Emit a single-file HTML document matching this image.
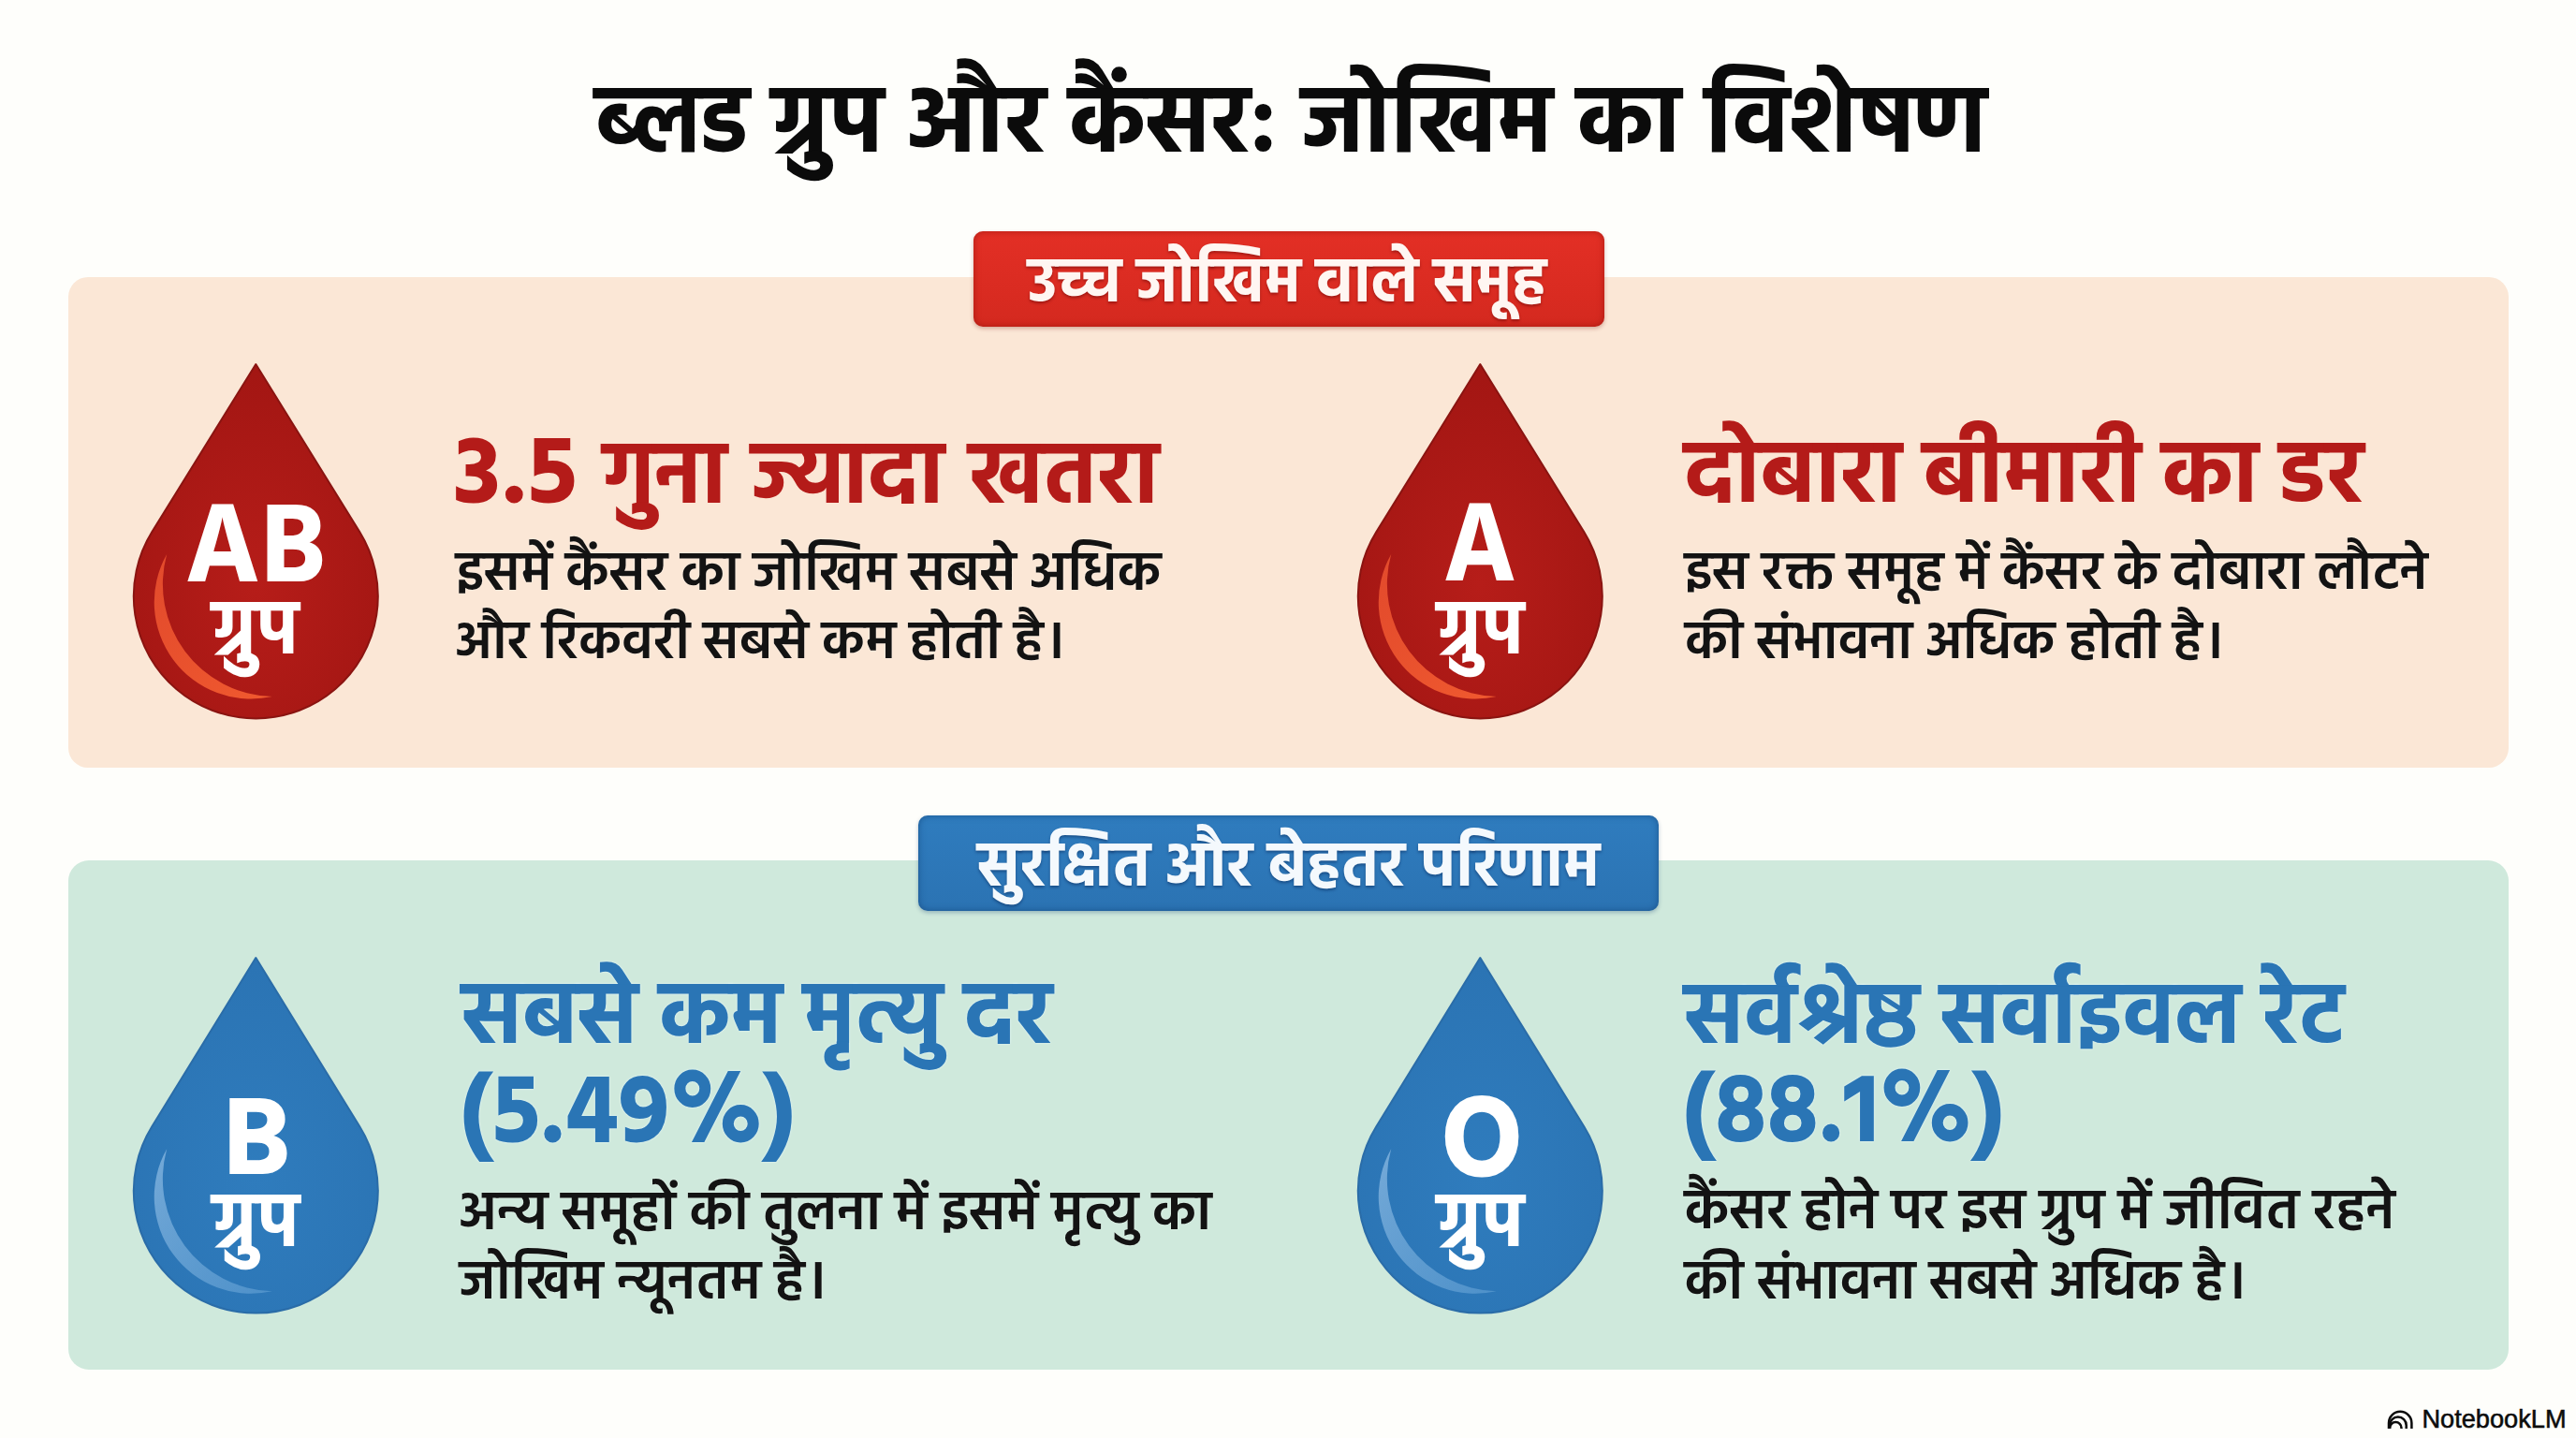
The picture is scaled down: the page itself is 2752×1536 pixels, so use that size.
<!DOCTYPE html>
<html lang="hi">
<head>
<meta charset="utf-8">
<title>ब्लड ग्रुप और कैंसर: जोखिम का विशेषण</title>
<style>
html,body{margin:0;padding:0;}
body{width:2752px;height:1536px;overflow:hidden;background:#fefefb;}
#page{position:relative;width:2752px;height:1536px;overflow:hidden;background:#fefefb;font-family:"Hind","Mukta","Noto Sans Devanagari","Lohit Devanagari","Liberation Sans","FreeSans",sans-serif;}
.t{position:absolute;white-space:nowrap;line-height:1;margin:0;font-weight:700;}
.panel{position:absolute;left:73px;width:2606.5px;}
.p-red{top:296px;height:524px;background:#fbe7d6;border-radius:21px;}
.p-blue{top:919px;height:543.5px;background:#cfe9dc;border-radius:22px;}
.badge{position:absolute;border-radius:10px;}
.b-red{left:1040px;top:246.5px;width:673.5px;height:102px;background:linear-gradient(#e32f25,#d4291f);box-shadow:0 2px 4px rgba(120,20,10,.3), inset 0 0 7px rgba(130,15,8,.55);}
.b-blue{left:981px;top:871px;width:791px;height:101.5px;background:linear-gradient(#2f7cbe,#2b73b3);box-shadow:0 2px 4px rgba(20,60,110,.3), inset 0 0 7px rgba(10,50,100,.5);}
.title{color:#0b0b0b;}
.w{display:inline-block;}
.bt{color:#fff6f2;text-shadow:0 2px 3px rgba(90,0,0,.45);}
.bt2{color:#f4f9fd;text-shadow:0 2px 3px rgba(0,30,80,.45);}
.hr{color:#b41b19;text-shadow:0 0 2px rgba(255,225,210,.9);}
.hb{color:#2a75b5;text-shadow:0 0 2.5px rgba(232,250,255,.95);}
.body{color:#131313;font-weight:600;text-shadow:0 0 2px rgba(255,255,255,.55);}
.dl{color:#fff;text-align:center;font-family:"Hind","Liberation Sans","DejaVu Sans",sans-serif;}
.dg{color:#fff;text-align:center;}
.num{font-size:1.115em;line-height:0;letter-spacing:1px;}
.nb{font-family:"Liberation Sans","DejaVu Sans",sans-serif;font-weight:400;color:#0c0c0c;-webkit-text-stroke:0.55px #0c0c0c;}
svg{position:absolute;left:0;top:0;}
</style>
</head>
<body>
<div id="page">
<div class="panel p-red"></div>
<div class="panel p-blue"></div>
<div class="badge b-red"></div>
<div class="badge b-blue"></div>
<svg width="2752" height="1536" viewBox="0 0 2752 1536">
<defs>
<radialGradient id="gr" cx="50%" cy="62%" r="60%"><stop offset="0" stop-color="#b61d19"/><stop offset="1" stop-color="#a31613"/></radialGradient>
<radialGradient id="gb" cx="50%" cy="62%" r="60%"><stop offset="0" stop-color="#2f7cbd"/><stop offset="1" stop-color="#2b74b4"/></radialGradient>
<linearGradient id="hr" x1="0" y1="0" x2="1" y2="1"><stop offset="0" stop-color="#e24a2c"/><stop offset="1" stop-color="#f0592f"/></linearGradient>
<linearGradient id="hb" x1="0" y1="0" x2="1" y2="1"><stop offset="0" stop-color="#8dbbe3" stop-opacity=".75"/><stop offset="1" stop-color="#6aa6d8" stop-opacity=".55"/></linearGradient>
</defs>
<path d="M273.3,389.0 L384.2,568.1 A130.5,130.5 0 1 1 162.4,568.1 Z" fill="url(#gr)" stroke="#8a1411" stroke-width="2" stroke-linejoin="round"/>
<path d="M178.2,592.1 A103.4,103.4 0 0 0 290.7,744.0 A120.0,120.0 0 0 1 178.2,592.1 Z" fill="url(#hr)"/>
<path d="M1581.3,389.0 L1692.2,568.1 A130.5,130.5 0 1 1 1470.4,568.1 Z" fill="url(#gr)" stroke="#8a1411" stroke-width="2" stroke-linejoin="round"/>
<path d="M1486.2,592.1 A103.4,103.4 0 0 0 1598.7,744.0 A120.0,120.0 0 0 1 1486.2,592.1 Z" fill="url(#hr)"/>
<path d="M273.3,1023.0 L384.4,1203.6 A130.5,130.5 0 1 1 162.2,1203.6 Z" fill="url(#gb)" stroke="#2a6ca8" stroke-width="2" stroke-linejoin="round"/>
<path d="M178.2,1227.3 A103.4,103.4 0 0 0 290.7,1379.2 A120.0,120.0 0 0 1 178.2,1227.3 Z" fill="url(#hb)"/>
<path d="M1581.3,1023.0 L1692.4,1203.6 A130.5,130.5 0 1 1 1470.2,1203.6 Z" fill="url(#gb)" stroke="#2a6ca8" stroke-width="2" stroke-linejoin="round"/>
<path d="M1486.2,1227.3 A103.4,103.4 0 0 0 1598.7,1379.2 A120.0,120.0 0 0 1 1486.2,1227.3 Z" fill="url(#hb)"/>
</svg>
<div class="t title" style="left:635.6px;top:86.4px;font-size:101.1px;"><span class="w" style="transform:scaleX(.952);transform-origin:0 50%;margin-right:-8.7px">ब्लड</span> ग्रुप <span class="w" style="transform:scaleX(1.043);transform-origin:0 50%;margin-right:6.5px">और</span> <span style="word-spacing:1.5px">कैंसर: जोखिम का विशेषण</span></div>
<div class="t bt" style="left:1098.3px;top:272.1px;font-size:66.2px;">उच्च जोखिम वाले समूह</div>
<div class="t bt2" style="left:1044.5px;top:895.8px;font-size:66.2px;">सुरक्षित और बेहतर परिणाम</div>
<div class="t dl" style="left:122.6px;width:300px;top:528.6px;font-size:122.5px;transform:scaleX(0.948);">AB</div>
<div class="t dg" style="left:122.7px;width:300px;top:639.1px;font-size:78.6px;transform:scaleY(1.035);transform-origin:50% 75.45%;">ग्रुप</div>
<div class="t dl" style="left:1431.4px;width:300px;top:528.3px;font-size:122.5px;transform:scaleX(0.927);">A</div>
<div class="t dg" style="left:1431.6px;width:300px;top:638.5px;font-size:78.6px;transform:scaleY(1.035);transform-origin:50% 75.45%;">ग्रुप</div>
<div class="t dl" style="left:124.0px;width:300px;top:1162.7px;font-size:121.0px;">B</div>
<div class="t dg" style="left:123.3px;width:300px;top:1272.0px;font-size:78.6px;transform:scaleY(1.035);transform-origin:50% 75.45%;">ग्रुप</div>
<div class="t dl" style="left:1432.6px;width:300px;top:1161.9px;font-size:126.0px;transform:scaleX(0.95);">O</div>
<div class="t dg" style="left:1431.5px;width:300px;top:1272.0px;font-size:78.6px;transform:scaleY(1.035);transform-origin:50% 75.45%;">ग्रुप</div>
<div class="t hr" style="left:484.0px;top:466.0px;font-size:94.3px;word-spacing:3.4px;"><span class="num">3.5</span> गुना ज्यादा खतरा</div>
<div class="t body" style="left:487.0px;top:586.1px;font-size:58.5px;">इसमें कैंसर का जोखिम सबसे अधिक</div>
<div class="t body" style="left:486.5px;top:660.4px;font-size:57.6px;">और रिकवरी सबसे कम होती है।</div>
<div class="t hr" style="left:1799.7px;top:466.0px;font-size:93.7px;">दोबारा बीमारी का डर</div>
<div class="t body" style="left:1799.7px;top:586.4px;font-size:57.8px;">इस रक्त समूह में कैंसर के दोबारा लौटने</div>
<div class="t body" style="left:1800.3px;top:659.7px;font-size:57.6px;">की संभावना अधिक होती है।</div>
<div class="t hb" style="left:493.8px;top:1043.8px;font-size:93.8px;">सबसे कम मृत्यु दर</div>
<div class="t hb" style="left:491.5px;top:1142.8px;font-size:102.3px;transform:scaleY(1.05);transform-origin:0 75.45%;">(5.49%)</div>
<div class="t body" style="left:490.6px;top:1268.7px;font-size:59.2px;">अन्य समूहों की तुलना में इसमें मृत्यु का</div>
<div class="t body" style="left:491.0px;top:1342.8px;font-size:59.0px;">जोखिम न्यूनतम है।</div>
<div class="t hb" style="left:1799.8px;top:1044.7px;font-size:92.7px;">सर्वश्रेष्ठ सर्वाइवल रेट</div>
<div class="t hb" style="left:1797.6px;top:1143.4px;font-size:101.8px;transform:scaleY(1.05);transform-origin:0 75.45%;">(88.1%)</div>
<div class="t body" style="left:1799.8px;top:1268.2px;font-size:59.9px;">कैंसर होने पर इस ग्रुप में जीवित रहने</div>
<div class="t body" style="left:1799.8px;top:1343.2px;font-size:58.5px;">की संभावना सबसे अधिक है।</div>
<svg width="2752" height="1536" viewBox="0 0 2752 1536" style="pointer-events:none">
<g fill="none" stroke="#0c0c0c" stroke-width="2.5" stroke-linecap="butt">
<path d="M2552,1526 V1520 A12.2,12.2 0 0 1 2576.4,1520 V1526"/>
<path d="M2553,1524 V1522.4 A8.85,8.85 0 0 1 2570.7,1522.4 V1526"/>
<path d="M2553.2,1526 V1525.2 A6.15,6.15 0 0 1 2565.5,1525.2 V1526"/>
</g></svg>
<div class="t nb" style="left:2587.4px;top:1502.2px;font-size:27.2px;">NotebookLM</div>
</div>
</body>
</html>
